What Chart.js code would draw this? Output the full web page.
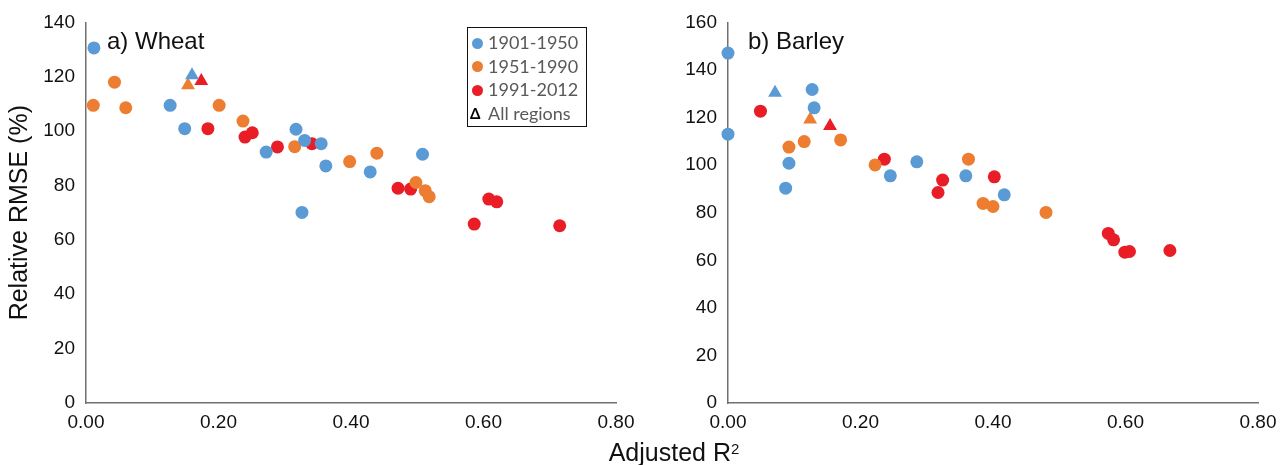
<!DOCTYPE html>
<html>
<head>
<meta charset="utf-8">
<script src="https://cdn.jsdelivr.net/npm/chart.js@4.4.1/dist/chart.umd.min.js"></script>
<style>
  html, body { margin:0; padding:0; background:#fff; }
  #wrap { position:relative; width:1287px; height:465px; background:#fff; overflow:hidden; font-family:"Liberation Sans", Arial, sans-serif; }
  .pane { position:absolute; top:0; height:465px; }
  .ptitle { position:absolute; top:29px; font-size:24px; line-height:24px; color:#111; white-space:nowrap; }
  #xtitle { position:absolute; left:674px; top:438px; transform:translateX(-50%); font-size:25px; line-height:28px; color:#111; white-space:nowrap; }
  #xtitle sup { font-size:15px; vertical-align:top; position:relative; top:-3px; }
  #legend { position:absolute; left:467px; top:27px; width:120px; height:100px; box-sizing:border-box; border:1.5px solid #111; padding-top:3px; font-family:Lato, "Open Sans", sans-serif; font-size:18px; color:#595959; }
  .row { position:relative; height:23.7px; line-height:23.7px; padding-left:20px; white-space:nowrap; }
  .dot { position:absolute; left:4px; top:6.5px; width:11px; height:11px; border-radius:50%; }
  .tri { position:absolute; left:2px; top:0; font-size:15px; color:#000; font-weight:bold; }
</style>
</head>
<body>
<div id="wrap">
  <div class="pane" style="left:0;width:643px"><canvas id="c1" width="643" height="465"></canvas></div>
  <div class="pane" style="left:643px;width:644px"><canvas id="c2" width="644" height="465"></canvas></div>
  <div class="ptitle" style="left:107px">a) Wheat</div>
  <div class="ptitle" style="left:748px">b) Barley</div>
  <div id="xtitle">Adjusted R<sup>2</sup></div>
  <div id="legend"></div>
</div>
<script>
// ---- Data ----
const periods = ["1901-1950", "1951-1990", "1991-2012"];
const periodColors = ["#5B9BD5", "#ED7D31", "#E81D25"];
const allRegionsLabel = "All regions";

// a) Wheat
const wheatX_1901 = [0.012, 0.127, 0.149, 0.272, 0.317, 0.330, 0.355, 0.362, 0.326, 0.429, 0.508];
const wheatY_1901 = [130.6, 109.5, 100.9, 92.3, 100.7, 96.6, 95.4, 87.2, 70.1, 85.0, 91.5];
const wheatX_1951 = [0.011, 0.043, 0.060, 0.201, 0.237, 0.315, 0.398, 0.439, 0.498, 0.512, 0.518];
const wheatY_1951 = [109.5, 118.0, 108.6, 109.5, 103.7, 94.3, 88.8, 91.9, 81.1, 78.1, 75.9];
const wheatX_1991 = [0.184, 0.240, 0.251, 0.289, 0.341, 0.471, 0.490, 0.608, 0.620, 0.586, 0.715];
const wheatY_1991 = [100.9, 97.8, 99.4, 94.2, 95.4, 79.0, 78.7, 75.0, 74.0, 65.8, 65.2];
const wheatAllX = [0.160, 0.154, 0.174];
const wheatAllY = [120.6, 116.9, 118.4];

// b) Barley
const barleyX_1901 = [0.000, 0.000, 0.127, 0.130, 0.092, 0.087, 0.245, 0.285, 0.359, 0.417];
const barleyY_1901 = [147.1, 113.0, 131.8, 124.1, 100.8, 90.3, 95.5, 101.4, 95.5, 87.5];
const barleyX_1951 = [0.092, 0.115, 0.170, 0.222, 0.363, 0.385, 0.400, 0.480];
const barleyY_1951 = [107.6, 109.9, 110.6, 100.1, 102.5, 83.9, 82.6, 80.1];
const barleyX_1991 = [0.049, 0.236, 0.324, 0.317, 0.402, 0.574, 0.582, 0.599, 0.606, 0.667];
const barleyY_1991 = [122.7, 102.5, 93.7, 88.5, 95.1, 71.3, 68.6, 63.4, 63.7, 64.1];
const barleyAllX = [0.071, 0.124, 0.154];
const barleyAllY = [130.4, 119.2, 116.4];

const xTickMin = 0, xTickMax = 0.8, xTickStep = 0.2;
const wheatYMax = 140, barleyYMax = 160, yTickStep = 20;

// ---- Helpers ----
const zip = (xs, ys) => xs.map((x, i) => ({ x, y: ys[i] }));

function buildDatasets(xs, ys, allX, allY) {
  const ds = [];
  for (let p = 0; p < 3; p++) {
    ds.push({
      label: periods[p],
      data: zip(xs[p], ys[p]),
      pointStyle: "circle",
      pointRadius: 6.5,
      pointHoverRadius: 6.5,
      backgroundColor: periodColors[p],
      borderWidth: 0,
      clip: false
    });
  }
  for (let p = 0; p < 3; p++) {
    ds.push({
      label: allRegionsLabel + " " + periods[p],
      data: [{ x: allX[p], y: allY[p] }],
      pointStyle: "triangle",
      pointRadius: 8,
      pointHoverRadius: 8,
      backgroundColor: periodColors[p],
      borderWidth: 0,
      clip: false
    });
  }
  return ds;
}

const tickFont = { family: "'Liberation Sans', Arial, sans-serif", size: 19 };

function makeChart(id, datasets, yMax, yTitle, yWidth, padRight) {
  return new Chart(document.getElementById(id), {
    type: "scatter",
    data: { datasets },
    options: {
      responsive: false,
      devicePixelRatio: 1,
      animation: false,
      events: [],
      layout: { padding: { top: 21, right: padRight, left: 0, bottom: 0 } },
      plugins: { legend: { display: false }, tooltip: { enabled: false } },
      scales: {
        x: {
          type: "linear",
          min: xTickMin, max: xTickMax,
          grid: { display: false, drawTicks: false },
          border: { display: true, color: "#707070", width: 1.5 },
          ticks: { stepSize: xTickStep, padding: 8, color: "#111", font: tickFont,
                   callback: v => Number(v).toFixed(2), maxRotation: 0 },
          afterFit: s => { s.height = 62; }
        },
        y: {
          type: "linear",
          min: 0, max: yMax,
          grid: { display: false, drawTicks: false },
          border: { display: true, color: "#707070", width: 1.5 },
          ticks: { stepSize: yTickStep, padding: 11, color: "#111", font: tickFont },
          title: yTitle ? { display: true, text: yTitle, color: "#111",
                   font: { family: "'Liberation Sans', Arial, sans-serif", size: 25 },
                   padding: { top: 5, bottom: 0 } } : { display: false },
          afterFit: s => { s.width = yWidth; }
        }
      }
    }
  });
}

makeChart("c1",
  buildDatasets([wheatX_1901, wheatX_1951, wheatX_1991], [wheatY_1901, wheatY_1951, wheatY_1991], wheatAllX, wheatAllY),
  wheatYMax, "Relative RMSE (%)", 86, 27);

makeChart("c2",
  buildDatasets([barleyX_1901, barleyX_1951, barleyX_1991], [barleyY_1901, barleyY_1951, barleyY_1991], barleyAllX, barleyAllY),
  barleyYMax, "", 85, 29);

// ---- Legend ----
const leg = document.getElementById("legend");
periods.forEach((p, i) => {
  const r = document.createElement("div");
  r.className = "row";
  r.innerHTML = '<span class="dot" style="background:' + periodColors[i] + '"></span>' + p;
  leg.appendChild(r);
});
const rAll = document.createElement("div");
rAll.className = "row";
rAll.innerHTML = '<span class="tri">&Delta;</span>' + allRegionsLabel;
leg.appendChild(rAll);
</script>
</body>
</html>
